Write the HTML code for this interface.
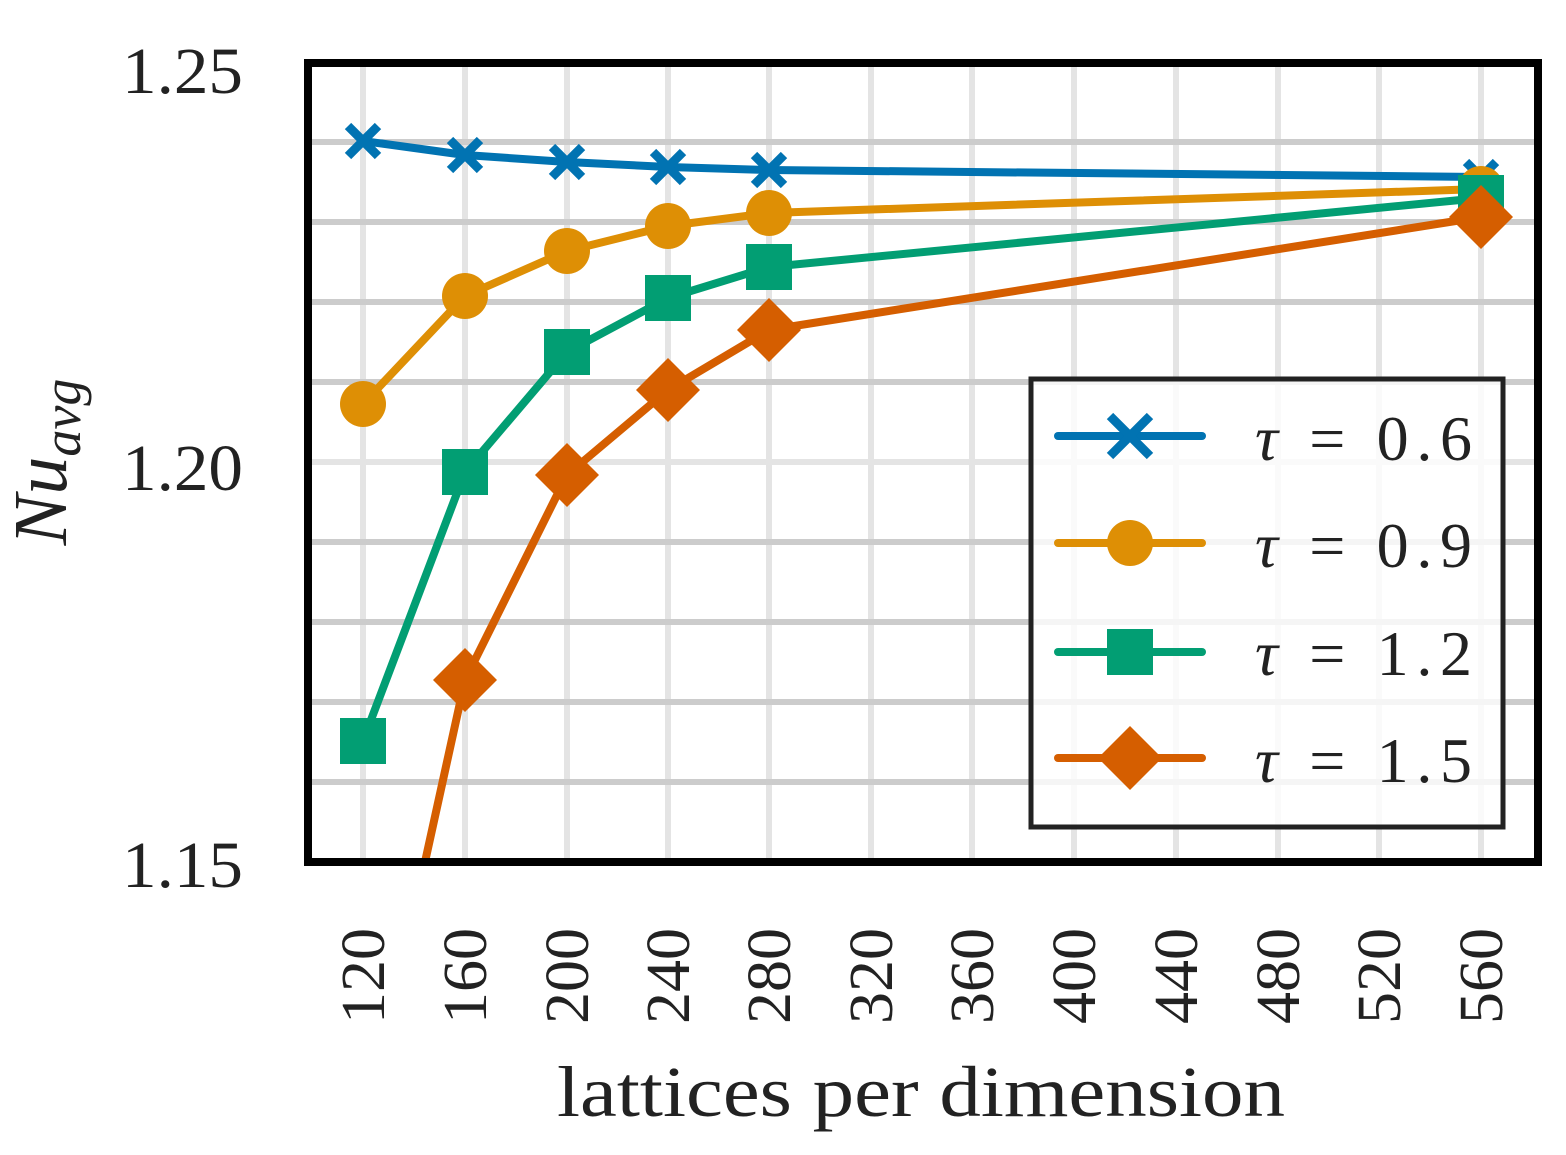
<!DOCTYPE html>
<html><head><meta charset="utf-8"><style>
html,body{margin:0;padding:0;background:#fff;}
svg{display:block;}
text{font-family:"Liberation Serif",serif;fill:#222;}
</style></head><body>
<svg width="1566" height="1155" viewBox="0 0 1566 1155" xmlns="http://www.w3.org/2000/svg">
<defs>
<clipPath id="pc"><rect x="308" y="63" width="1230" height="799"/></clipPath>
</defs>
<g stroke-width="6">
<g stroke="#e4e4e4">
<line x1="363" y1="63" x2="363" y2="862"/><line x1="465" y1="63" x2="465" y2="862"/>
<line x1="567" y1="63" x2="567" y2="862"/><line x1="668" y1="63" x2="668" y2="862"/>
<line x1="769" y1="63" x2="769" y2="862"/><line x1="871" y1="63" x2="871" y2="862"/>
<line x1="972" y1="63" x2="972" y2="862"/><line x1="1074" y1="63" x2="1074" y2="862"/>
<line x1="1176" y1="63" x2="1176" y2="862"/><line x1="1278" y1="63" x2="1278" y2="862"/>
<line x1="1379" y1="63" x2="1379" y2="862"/><line x1="1481" y1="63" x2="1481" y2="862"/>
<line x1="308" y1="462" x2="1538" y2="462"/>
</g>
<g stroke="#cccccc">
<line x1="308" y1="142" x2="1538" y2="142"/><line x1="308" y1="222" x2="1538" y2="222"/>
<line x1="308" y1="302" x2="1538" y2="302"/><line x1="308" y1="382" x2="1538" y2="382"/>
<line x1="308" y1="542" x2="1538" y2="542"/><line x1="308" y1="622" x2="1538" y2="622"/>
<line x1="308" y1="702" x2="1538" y2="702"/><line x1="308" y1="782" x2="1538" y2="782"/>
</g>
</g>
<g clip-path="url(#pc)" fill="none" stroke-width="8" stroke-linejoin="round">
<polyline stroke="#0173B2" points="363,141 465,155 567,162 668,167 769,170 1481,177"/>
<polyline stroke="#DE8F05" points="363,404 465,296 567,251 668,226 769,213 1481,189"/>
<polyline stroke="#029E73" points="363,741 465,472 567,352 668,298 769,267 1481,198"/>
<polyline stroke="#D55E00" points="363,1144 465,680 567,475 668,390 769,330 1481,217"/>
</g>
<g stroke="#0173B2" stroke-width="9">
<path d="M348,126 L378,156 M378,126 L348,156"/>
<path d="M450,140 L480,170 M480,140 L450,170"/>
<path d="M552,147 L582,177 M582,147 L552,177"/>
<path d="M653,152 L683,182 M683,152 L653,182"/>
<path d="M754,155 L784,185 M784,155 L754,185"/>
<path d="M1466,162 L1496,192 M1496,162 L1466,192"/>
</g>
<g fill="#DE8F05">
<circle cx="363" cy="404" r="23"/><circle cx="465" cy="296" r="23"/><circle cx="567" cy="251" r="23"/>
<circle cx="668" cy="226" r="23"/><circle cx="769" cy="213" r="23"/><circle cx="1481" cy="189" r="23"/>
</g>
<g fill="#029E73">
<rect x="340" y="718" width="46" height="46"/><rect x="442" y="449" width="46" height="46"/>
<rect x="544" y="329" width="46" height="46"/><rect x="645" y="275" width="46" height="46"/>
<rect x="746" y="244" width="46" height="46"/><rect x="1458" y="175" width="46" height="46"/>
</g>
<g fill="#D55E00">
<path d="M465,648 L497,680 L465,712 L433,680Z"/>
<path d="M567,443 L599,475 L567,507 L535,475Z"/>
<path d="M668,358 L700,390 L668,422 L636,390Z"/>
<path d="M769,298 L801,330 L769,362 L737,330Z"/>
<path d="M1481,185 L1513,217 L1481,249 L1449,217Z"/>
</g>
<rect x="308" y="63" width="1230" height="799" fill="none" stroke="#000" stroke-width="8"/>
<rect x="1031" y="379" width="472" height="448" fill="#fff" fill-opacity="0.8" stroke="#222" stroke-width="5"/>
<g stroke-width="8" stroke-linecap="round">
<line x1="1058" y1="436" x2="1202" y2="436" stroke="#0173B2"/>
<path d="M1110,416 L1150,456 M1150,416 L1110,456" stroke="#0173B2" stroke-width="9" stroke-linecap="butt"/>
<line x1="1058" y1="543" x2="1202" y2="543" stroke="#DE8F05"/>
<circle cx="1130" cy="543" r="23" fill="#DE8F05" stroke="none"/>
<line x1="1058" y1="652" x2="1202" y2="652" stroke="#029E73"/>
<rect x="1107" y="629" width="46" height="46" fill="#029E73" stroke="none"/>
<line x1="1058" y1="758" x2="1202" y2="758" stroke="#D55E00"/>
<path d="M1130,726 L1162,758 L1130,790 L1098,758Z" fill="#D55E00" stroke="none"/>
</g>
<g font-size="64">
<text x="1255" y="460" textLength="217" lengthAdjust="spacing"><tspan font-style="italic">τ</tspan> = 0.6</text>
<text x="1255" y="567" textLength="217" lengthAdjust="spacing"><tspan font-style="italic">τ</tspan> = 0.9</text>
<text x="1255" y="675" textLength="217" lengthAdjust="spacing"><tspan font-style="italic">τ</tspan> = 1.2</text>
<text x="1255" y="782" textLength="217" lengthAdjust="spacing"><tspan font-style="italic">τ</tspan> = 1.5</text>
</g>
<g font-size="66" text-anchor="end">
<text x="243" y="93" textLength="121" lengthAdjust="spacingAndGlyphs">1.25</text>
<text x="243" y="490" textLength="121" lengthAdjust="spacingAndGlyphs">1.20</text>
<text x="243" y="887" textLength="121" lengthAdjust="spacingAndGlyphs">1.15</text>
</g>
<text transform="translate(66,462) rotate(-90)" font-size="76" font-style="italic" text-anchor="middle">Nu<tspan font-size="54" dy="14">avg</tspan></text>
<g font-size="62" text-anchor="end">
<text transform="translate(384,928) rotate(-90)" textLength="96" lengthAdjust="spacingAndGlyphs">120</text>
<text transform="translate(486,928) rotate(-90)" textLength="96" lengthAdjust="spacingAndGlyphs">160</text>
<text transform="translate(588,928) rotate(-90)" textLength="96" lengthAdjust="spacingAndGlyphs">200</text>
<text transform="translate(689,928) rotate(-90)" textLength="96" lengthAdjust="spacingAndGlyphs">240</text>
<text transform="translate(790,928) rotate(-90)" textLength="96" lengthAdjust="spacingAndGlyphs">280</text>
<text transform="translate(892,928) rotate(-90)" textLength="96" lengthAdjust="spacingAndGlyphs">320</text>
<text transform="translate(993,928) rotate(-90)" textLength="96" lengthAdjust="spacingAndGlyphs">360</text>
<text transform="translate(1095,928) rotate(-90)" textLength="96" lengthAdjust="spacingAndGlyphs">400</text>
<text transform="translate(1197,928) rotate(-90)" textLength="96" lengthAdjust="spacingAndGlyphs">440</text>
<text transform="translate(1299,928) rotate(-90)" textLength="96" lengthAdjust="spacingAndGlyphs">480</text>
<text transform="translate(1400,928) rotate(-90)" textLength="96" lengthAdjust="spacingAndGlyphs">520</text>
<text transform="translate(1502,928) rotate(-90)" textLength="96" lengthAdjust="spacingAndGlyphs">560</text>
</g>
<text x="557" y="1116" font-size="72" textLength="728" lengthAdjust="spacingAndGlyphs">lattices per dimension</text>
</svg>
</body></html>
